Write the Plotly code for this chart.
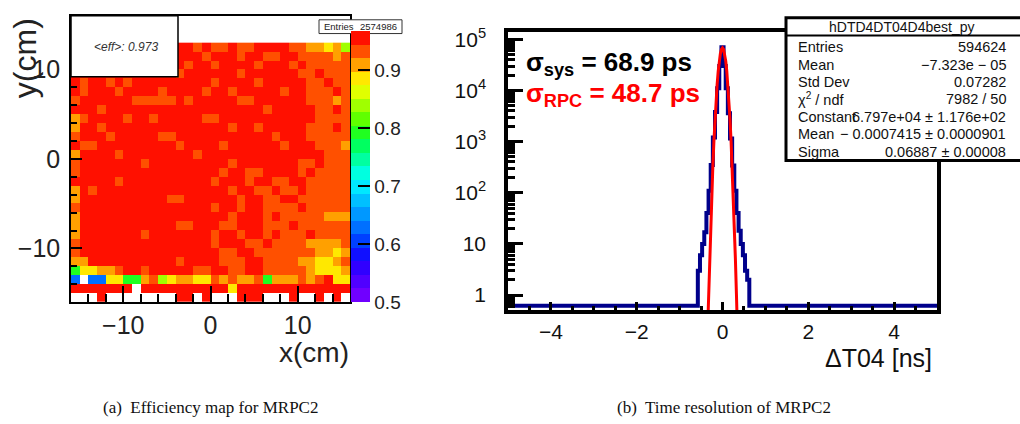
import plotly.graph_objects as go

W, H = 1020, 424
def px(x): return x / W
def py(y): return 1 - y / H

# ---------------- (a) efficiency map data ----------------
x_centers = [-15.5, -14.5, -13.5, -12.5, -11.5, -10.5, -9.5, -8.5, -7.5, -6.5, -5.5, -4.5, -3.5, -2.5, -1.5, -0.5,
             0.5, 1.5, 2.5, 3.5, 4.5, 5.5, 6.5, 7.5, 8.5, 9.5, 10.5, 11.5, 12.5, 13.5, 14.5, 15.5]
y_centers = [12.5, 11.5, 10.5, 9.5, 8.5, 7.5, 6.5, 5.5, 4.5, 3.5, 2.5, 1.5, 0.5, -0.5, -1.5, -2.5, -3.5, -4.5,
             -5.5, -6.5, -7.5, -8.5, -9.5, -10.5, -11.5, -12.5, -13.5, -14.5, -15.5]
# efficiency level codes per cell (rows top -> bottom)
eff_rows = [
    "RRRRRRRR" "RRRRRRoR" "ooRooRRR" "RooOOYOg",
    "RRRRRRRR" "RRRRRRRo" "RRRoRRoo" "RRooooOo",
    "RRRRRRRR" "RRRRRoRR" "oRRRRoRR" "RoRooooo",
    "RRRRRRRR" "RRRRoRRR" "RRRoRRRR" "RRooRooo",
    "RoRRoRoR" "RRRRRRRR" "oRRRRoRR" "RRRooRoo",
    "RoRRRoRR" "RRoRRRRo" "RRoRRRRR" "oRRoooRo",
    "oRRRRRRo" "ooooRoRR" "RRRooRRR" "RRRoooOo",
    "RRRoRRRR" "RRRRRRRR" "RRRRRRoR" "RRRRooRo",
    "OoRRRRoR" "RoRRRRRo" "oRRRRRRR" "RRRRoooo",
    "ORRoRRRR" "RRRRRRRR" "RRoRRoRR" "RRRoooRo",
    "oRRRoRRR" "RRooRRRR" "RRRRRRRo" "RRRooooo",
    "RooRRRRR" "RRRRoRRR" "RoRRRRRR" "oRRRoooO",
    "ORRRRoRR" "RRRRRRoR" "RRRRRRRR" "RRRRRooo",
    "oRRRRRRR" "oRRRRRRR" "RRoRRRRR" "RRooRooo",
    "oRRRRRRR" "RRRRRRRR" "RoRRooRR" "RRoRoooo",
    "RRRRRoRR" "RRRRRRRR" "oRRRoRRo" "oRRooooo",
    "ORoRRRRR" "RRRRRRRR" "RRoRRooR" "ooRooooo",
    "ORRRRRRR" "RRRooRRR" "RRRoRRoo" "RRoooooo",
    "oRRRRRRR" "RRRRRRRR" "oRRoRRoo" "ooRooooo",
    "ORRRRRRR" "RRRRRRRR" "RRoRRRoR" "oooooOOO",
    "ORRRRRRR" "RRRRooRR" "RooRRRoo" "oRoooooo",
    "ORRRRRRR" "oRRRRRRR" "oRRoRRoR" "oooRoooo",
    "oRRRRRRR" "RRRRRRRR" "oRRRooRo" "oooOOOOo",
    "oRRRRRRR" "RRRRRRRR" "RooRRooo" "ooooOOYO",
    "OORRRRRR" "RRRRoRRR" "RoooRRoo" "ooOOYYOo",
    "GYYOOoRR" "oRRRRRoo" "RRooRRoo" "oooOYYYO",
    "bwbbYYGG" "OogYOOYY" "oOoOOoGO" "OOoOoRYY",
    "RRRRRRRw" "RRRRRRRR" "RRYRRRRR" "RRRRRRRR",
    "wwwRwwww" "wwwwRRwR" "wwwRRRww" "wRwwRwRw",
]
level_values = {"R": 0.980, "o": 0.935, "O": 0.910, "Y": 0.885, "g": 0.845,
                "G": 0.792, "b": 0.628, "w": None}
eff_z = [[level_values[c] for c in row] for row in eff_rows]
z_min, z_max = 0.5, 0.967
cbar_ticks = [0.5, 0.6, 0.7, 0.8, 0.9]
palette = ["#7000ff", "#5000ff", "#3000ff", "#1010ff", "#0040ff", "#0070ff", "#0098ff", "#00c0ff",
           "#00e8ff", "#00ffe0", "#00ffa0", "#00ff60", "#20ff20", "#60ff00", "#a0ff00", "#e0ff00",
           "#ffe800", "#ffa000", "#ff5000", "#ff1000"]
mean_eff_text = "<i>&lt;eff&gt;: 0.973</i>"
entries_a = "2574986"

# ---------------- (b) time resolution data ----------------
hist_lo, hist_hi = -5.0, 5.0
peak_edges = [-0.575, -0.525, -0.475, -0.425, -0.375, -0.325, -0.275, -0.225, -0.175, -0.125, -0.075, -0.025,
              0.025, 0.075, 0.125, 0.175, 0.225, 0.275, 0.325, 0.375, 0.425, 0.475, 0.525, 0.575, 0.625]
peak_counts = [3, 6, 10, 17, 40, 110, 350, 1200, 3800, 11000, 30000, 70000,
               30000, 11000, 3600, 1150, 340, 110, 40, 18, 10, 6, 3, 2]
fit_x = [-0.35, -0.325, -0.30, -0.275, -0.25, -0.225, -0.20, -0.175, -0.15, -0.125, -0.10, -0.075, -0.05, -0.025,
         0.0, 0.025, 0.05, 0.075, 0.10, 0.125, 0.15, 0.175, 0.20, 0.225, 0.25, 0.275, 0.30, 0.325, 0.35]
fit_y = [0.18, 1.04, 5.3, 24, 96, 334, 1020, 2730, 6400, 13200, 23800, 37700, 52300, 63700,
         68000, 63700, 52300, 37700, 23800, 13200, 6400, 2730, 1020, 334, 96, 24, 5.3, 1.04, 0.18]
empty_floor = 0.62
stats_title = "hDTD4DT04D4best_py"
stats_labels = ["Entries", "Mean", "Std Dev", "χ<sup>2</sup> / ndf", "Constant", "Mean", "Sigma"]
stats_values = ["594624", "−7.323e − 05", "0.07282", "7982 / 50", "6.797e+04 ± 1.176e+02",
                "− 0.0007415 ± 0.0000901", "0.06887 ± 0.00008"]

# ---------------- build figure ----------------
FONT = "Liberation Sans, Arial, Helvetica, sans-serif"
nb = len(palette)
colorscale = []
for i, c in enumerate(palette):
    colorscale.append([i / nb, c])
    colorscale.append([(i + 1) / nb, c])

fig = go.Figure()
fig.add_trace(go.Heatmap(
    z=eff_z, x=x_centers, y=y_centers, zmin=z_min, zmax=z_max, colorscale=colorscale,
    xaxis="x", yaxis="y", hoverinfo="skip",
    colorbar=dict(x=px(351), xanchor="left", xpad=0, thickness=19,
                  lenmode="pixels", len=271, y=py(300), yanchor="bottom", ypad=0,
                  outlinewidth=0, tickvals=cbar_ticks, ticktext=[f"{v:.1f}" for v in cbar_ticks],
                  ticks="inside", ticklen=12, tickcolor="black", tickwidth=1.5,
                  tickfont=dict(family=FONT, size=19, color="#222"))))

hx = [hist_lo] + peak_edges + [hist_hi]
hy = [0] + peak_counts + [0, 0]
hy_disp = [max(v, empty_floor) for v in hy]
fig.add_trace(go.Scatter(x=hx, y=hy_disp, mode="lines", line=dict(color="#00008b", width=4, shape="hv"),
                         xaxis="x2", yaxis="y2", hoverinfo="skip", showlegend=False))
fig.add_trace(go.Scatter(x=fit_x, y=fit_y, mode="lines", line=dict(color="#ff0000", width=3),
                         xaxis="x2", yaxis="y2", hoverinfo="skip", showlegend=False))

dec = [1, 10, 100, 1000, 10000, 100000]
minor_log = [k * 10 ** d for d in range(-1, 6) for k in range(2, 10)]

fig.update_layout(
    width=W, height=H, margin=dict(l=0, r=0, t=0, b=0),
    paper_bgcolor="white", plot_bgcolor="white", showlegend=False,
    font=dict(family=FONT, color="black"),
    xaxis=dict(domain=[px(71), px(350)], range=[-16, 16], anchor="y",
               tickvals=[-10, 0, 10], ticks="inside", ticklen=16, tickwidth=1.5, tickcolor="black",
               minor=dict(dtick=2, ticks="inside", ticklen=8, tickwidth=1.5, tickcolor="black"),
               showline=True, mirror=True, linecolor="black", linewidth=1.5,
               showgrid=False, zeroline=False, tickfont=dict(size=25, color="#222"), ticklabelstandoff=0),
    yaxis=dict(domain=[py(300), py(9)], range=[-16, 16], anchor="x",
               tickvals=[-10, 0, 10], ticks="inside", ticklen=11, tickwidth=1.5, tickcolor="black",
               minor=dict(dtick=2, ticks="inside", ticklen=6, tickwidth=1.5, tickcolor="black"),
               showline=True, mirror=True, linecolor="black", linewidth=1.5,
               showgrid=False, zeroline=False, tickfont=dict(size=25, color="#222"), ticklabelstandoff=4),
    xaxis2=dict(domain=[px(508), px(937)], range=[hist_lo, hist_hi], anchor="y2",
                tickvals=[-4, -2, 0, 2, 4], ticks="inside", ticklen=8, tickwidth=2.5, tickcolor="black",
                minor=dict(dtick=0.5, ticks="inside", ticklen=4, tickwidth=2.5, tickcolor="black"),
                showline=True, mirror=True, linecolor="black", linewidth=3.5,
                showgrid=False, zeroline=False, tickfont=dict(size=21, color="#111"), ticklabelstandoff=0),
    yaxis2=dict(domain=[py(308), py(25)], type="log", range=[-0.29, 5.15], anchor="x2",
                tickvals=dec, ticktext=["1", "10", "10<sup>2</sup>", "10<sup>3</sup>", "10<sup>4</sup>", "10<sup>5</sup>"],
                ticks="inside", ticklen=15, tickwidth=2.5, tickcolor="black",
                minor=dict(tickvals=minor_log, ticks="inside", ticklen=7, tickwidth=2.5, tickcolor="black"),
                showline=True, mirror=True, linecolor="black", linewidth=3.5,
                showgrid=False, zeroline=False, tickfont=dict(size=21, color="#111"), ticklabelstandoff=14),
)

shapes = [
    dict(type="rect", xref="paper", yref="paper", x0=px(71), x1=px(178), y0=py(71), y1=py(9),
         fillcolor="white", line=dict(color="black", width=1.5), layer="above"),
    dict(type="rect", xref="paper", yref="paper", x0=px(319), x1=px(402), y0=py(27), y1=py(13),
         fillcolor="white", line=dict(color="#333", width=1), layer="above"),
    dict(type="rect", xref="paper", yref="paper", x0=px(786), x1=px(1030), y0=py(156), y1=py(11),
         fillcolor="white", line=dict(color="black", width=3), layer="above"),
    dict(type="line", xref="paper", yref="paper", x0=px(786), x1=px(1030), y0=py(29), y1=py(29),
         line=dict(color="black", width=2), layer="above"),
]
fig.update_layout(shapes=shapes)

ann = []
def A(text, x, y, size, xanchor="center", color="black", family=FONT, angle=0):
    ann.append(dict(text=text, x=px(x), y=py(y), xref="paper", yref="paper", showarrow=False,
                    xanchor=xanchor, yanchor="middle", textangle=angle,
                    font=dict(size=size, color=color, family=family)))

A(mean_eff_text, 126, 41, 12, color="#333")
A("Entries", 322, 20, 9.5, xanchor="left", color="#222")
A(entries_a, 399, 20, 9.5, xanchor="right", color="#222")
A("x(cm)", 351, 351, 28, xanchor="right", color="#222")
A("y(cm)", 25, 52, 32, color="#222", angle=-90)

A("<b>σ<sub>sys</sub> = 68.9 ps</b>", 524, 57, 26, xanchor="left", color="black")
A("<b>σ<sub>RPC</sub> = 48.7 ps</b>", 524, 89, 26, xanchor="left", color="#ff0000")
A("ΔT04 [ns]", 934, 357, 25, xanchor="right", color="#111")

A(stats_title, 902, 20, 14, color="#111")
ys = [41, 59, 76, 94, 112, 129, 147]
for lab, val, yy in zip(stats_labels, stats_values, ys):
    A(lab, 796, yy, 14.5, xanchor="left", color="#111")
    A(val, 1008, yy, 14.5, xanchor="right", color="#111")

SERIF = "Liberation Serif, Times New Roman, serif"
A("(a)  Efficiency map for MRPC2", 210, 407, 17, family=SERIF, color="#111")
A("(b)  Time resolution of MRPC2", 724, 407, 17, family=SERIF, color="#111")

fig.update_layout(annotations=ann)
fig.write_html("out.html", config={"displayModeBar": False},
               post_script="document.body.style.margin='0';document.body.style.padding='0';")
